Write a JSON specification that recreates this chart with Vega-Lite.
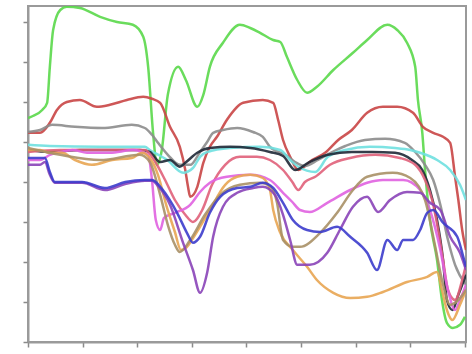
{
"$schema":"https://vega.github.io/schema/vega-lite/v6.json",
"width":438,"height":336,
"autosize":{"type":"none"},
"padding":{"left":28,"top":6,"right":6,"bottom":12},
"background":"white",
"config":{"view":{"stroke":"#9a9a9a","strokeWidth":2}},
"data":{"values":[
{"s":"green","x":0,"y":5.6},{"s":"green","x":0.09,"y":5.65},{"s":"green","x":0.26,"y":5.8},{"s":"green","x":0.35,"y":5.98},{"s":"green","x":0.4,"y":6.88},{"s":"green","x":0.46,"y":7.8},{"s":"green","x":0.59,"y":8.3},{"s":"green","x":0.71,"y":8.38},{"s":"green","x":0.95,"y":8.35},{"s":"green","x":1.32,"y":8.13},{"s":"green","x":1.63,"y":8.0},{"s":"green","x":1.92,"y":7.93},{"s":"green","x":2.11,"y":7.63},{"s":"green","x":2.2,"y":6.88},{"s":"green","x":2.29,"y":5.23},{"s":"green","x":2.36,"y":4.43},{"s":"green","x":2.45,"y":4.8},{"s":"green","x":2.56,"y":6.18},{"s":"green","x":2.75,"y":6.88},{"s":"green","x":2.89,"y":6.55},{"s":"green","x":3.1,"y":5.88},{"s":"green","x":3.21,"y":6.18},{"s":"green","x":3.33,"y":6.88},{"s":"green","x":3.57,"y":7.48},{"s":"green","x":3.88,"y":7.93},{"s":"green","x":4.07,"y":7.85},{"s":"green","x":4.25,"y":7.73},{"s":"green","x":4.49,"y":7.55},{"s":"green","x":4.62,"y":7.5},{"s":"green","x":4.74,"y":7.13},{"s":"green","x":4.93,"y":6.55},{"s":"green","x":5.11,"y":6.23},{"s":"green","x":5.29,"y":6.38},{"s":"green","x":5.59,"y":6.8},{"s":"green","x":5.95,"y":7.23},{"s":"green","x":6.21,"y":7.55},{"s":"green","x":6.58,"y":7.93},{"s":"green","x":6.76,"y":7.8},{"s":"green","x":6.94,"y":7.48},{"s":"green","x":7.09,"y":6.88},{"s":"green","x":7.14,"y":6.05},{"s":"green","x":7.22,"y":5.23},{"s":"green","x":7.27,"y":4.3},{"s":"green","x":7.36,"y":3.05},{"s":"green","x":7.49,"y":2.05},{"s":"green","x":7.58,"y":1.05},{"s":"green","x":7.67,"y":0.48},{"s":"green","x":7.78,"y":0.35},{"s":"green","x":7.91,"y":0.43},{"s":"green","x":8.0,"y":0.63},
{"s":"red","x":0,"y":5.23},{"s":"red","x":0.22,"y":5.23},{"s":"red","x":0.4,"y":5.48},{"s":"red","x":0.53,"y":5.8},{"s":"red","x":0.71,"y":6.0},{"s":"red","x":0.95,"y":6.05},{"s":"red","x":1.26,"y":5.88},{"s":"red","x":1.5,"y":5.93},{"s":"red","x":1.81,"y":6.05},{"s":"red","x":2.11,"y":6.13},{"s":"red","x":2.27,"y":6.08},{"s":"red","x":2.42,"y":5.98},{"s":"red","x":2.6,"y":5.38},{"s":"red","x":2.78,"y":4.88},{"s":"red","x":2.88,"y":4.3},{"s":"red","x":2.93,"y":3.88},{"s":"red","x":2.97,"y":3.63},{"s":"red","x":3.1,"y":3.88},{"s":"red","x":3.21,"y":4.48},{"s":"red","x":3.33,"y":4.88},{"s":"red","x":3.46,"y":5.13},{"s":"red","x":3.64,"y":5.55},{"s":"red","x":3.94,"y":5.98},{"s":"red","x":4.3,"y":6.05},{"s":"red","x":4.49,"y":5.98},{"s":"red","x":4.58,"y":5.55},{"s":"red","x":4.67,"y":5.05},{"s":"red","x":4.8,"y":4.63},{"s":"red","x":4.95,"y":4.3},{"s":"red","x":5.2,"y":4.55},{"s":"red","x":5.44,"y":4.73},{"s":"red","x":5.68,"y":5.05},{"s":"red","x":5.93,"y":5.3},{"s":"red","x":6.21,"y":5.73},{"s":"red","x":6.5,"y":5.88},{"s":"red","x":6.76,"y":5.88},{"s":"red","x":7.05,"y":5.73},{"s":"red","x":7.23,"y":5.38},{"s":"red","x":7.42,"y":5.23},{"s":"red","x":7.6,"y":5.13},{"s":"red","x":7.73,"y":4.98},{"s":"red","x":7.82,"y":4.13},{"s":"red","x":7.88,"y":3.55},{"s":"red","x":7.95,"y":2.8},{"s":"red","x":8.02,"y":2.3},
{"s":"gray","x":0,"y":5.25},{"s":"gray","x":0.22,"y":5.3},{"s":"gray","x":0.44,"y":5.43},{"s":"gray","x":0.86,"y":5.38},{"s":"gray","x":1.36,"y":5.35},{"s":"gray","x":1.9,"y":5.43},{"s":"gray","x":2.14,"y":5.35},{"s":"gray","x":2.27,"y":5.18},{"s":"gray","x":2.38,"y":4.98},{"s":"gray","x":2.56,"y":4.68},{"s":"gray","x":2.78,"y":4.43},{"s":"gray","x":2.97,"y":4.43},{"s":"gray","x":3.15,"y":4.75},{"s":"gray","x":3.28,"y":5.0},{"s":"gray","x":3.39,"y":5.23},{"s":"gray","x":3.57,"y":5.3},{"s":"gray","x":3.83,"y":5.35},{"s":"gray","x":4.12,"y":5.25},{"s":"gray","x":4.3,"y":5.13},{"s":"gray","x":4.43,"y":4.88},{"s":"gray","x":4.71,"y":4.68},{"s":"gray","x":4.89,"y":4.5},{"s":"gray","x":5.07,"y":4.4},{"s":"gray","x":5.31,"y":4.55},{"s":"gray","x":5.57,"y":4.75},{"s":"gray","x":5.81,"y":4.9},{"s":"gray","x":6.17,"y":5.05},{"s":"gray","x":6.54,"y":5.08},{"s":"gray","x":6.9,"y":4.98},{"s":"gray","x":7.09,"y":4.75},{"s":"gray","x":7.27,"y":4.43},{"s":"gray","x":7.42,"y":4.05},{"s":"gray","x":7.55,"y":3.43},{"s":"gray","x":7.69,"y":2.55},{"s":"gray","x":7.82,"y":1.93},{"s":"gray","x":8.02,"y":1.43},
{"s":"cyan","x":0,"y":4.93},{"s":"cyan","x":0.4,"y":4.9},{"s":"cyan","x":1.32,"y":4.88},{"s":"cyan","x":2.14,"y":4.88},{"s":"cyan","x":2.23,"y":4.8},{"s":"cyan","x":2.55,"y":4.55},{"s":"cyan","x":2.84,"y":4.23},{"s":"cyan","x":3.02,"y":4.35},{"s":"cyan","x":3.15,"y":4.63},{"s":"cyan","x":3.28,"y":4.75},{"s":"cyan","x":3.7,"y":4.85},{"s":"cyan","x":4.25,"y":4.88},{"s":"cyan","x":4.62,"y":4.8},{"s":"cyan","x":4.8,"y":4.55},{"s":"cyan","x":4.95,"y":4.38},{"s":"cyan","x":5.26,"y":4.25},{"s":"cyan","x":5.49,"y":4.63},{"s":"cyan","x":5.81,"y":4.8},{"s":"cyan","x":6.26,"y":4.88},{"s":"cyan","x":6.72,"y":4.85},{"s":"cyan","x":7.0,"y":4.8},{"s":"cyan","x":7.18,"y":4.73},{"s":"cyan","x":7.49,"y":4.55},{"s":"cyan","x":7.73,"y":4.3},{"s":"cyan","x":7.91,"y":3.93},{"s":"cyan","x":8.02,"y":3.55},
{"s":"black","x":0,"y":4.8},{"s":"black","x":0.4,"y":4.75},{"s":"black","x":0.95,"y":4.8},{"s":"black","x":1.5,"y":4.8},{"s":"black","x":2.05,"y":4.8},{"s":"black","x":2.23,"y":4.75},{"s":"black","x":2.42,"y":4.5},{"s":"black","x":2.6,"y":4.55},{"s":"black","x":2.78,"y":4.38},{"s":"black","x":2.88,"y":4.48},{"s":"black","x":3.1,"y":4.73},{"s":"black","x":3.33,"y":4.85},{"s":"black","x":3.7,"y":4.88},{"s":"black","x":4.07,"y":4.85},{"s":"black","x":4.43,"y":4.75},{"s":"black","x":4.67,"y":4.65},{"s":"black","x":4.89,"y":4.3},{"s":"black","x":5.13,"y":4.48},{"s":"black","x":5.49,"y":4.68},{"s":"black","x":5.93,"y":4.75},{"s":"black","x":6.3,"y":4.75},{"s":"black","x":6.72,"y":4.73},{"s":"black","x":7.03,"y":4.55},{"s":"black","x":7.22,"y":4.3},{"s":"black","x":7.36,"y":3.8},{"s":"black","x":7.49,"y":3.05},{"s":"black","x":7.6,"y":2.05},{"s":"black","x":7.67,"y":1.05},{"s":"black","x":7.77,"y":0.8},{"s":"black","x":7.88,"y":1.18},{"s":"black","x":7.95,"y":1.43},{"s":"black","x":8.02,"y":1.68},
{"s":"rose","x":0,"y":4.75},{"s":"rose","x":0.59,"y":4.8},{"s":"rose","x":1.32,"y":4.8},{"s":"rose","x":2.14,"y":4.8},{"s":"rose","x":2.33,"y":4.5},{"s":"rose","x":2.51,"y":4.05},{"s":"rose","x":2.69,"y":3.55},{"s":"rose","x":2.88,"y":3.18},{"s":"rose","x":3.02,"y":3.0},{"s":"rose","x":3.19,"y":3.3},{"s":"rose","x":3.37,"y":3.93},{"s":"rose","x":3.61,"y":4.43},{"s":"rose","x":3.88,"y":4.63},{"s":"rose","x":4.19,"y":4.63},{"s":"rose","x":4.43,"y":4.55},{"s":"rose","x":4.67,"y":4.3},{"s":"rose","x":4.84,"y":4.0},{"s":"rose","x":4.95,"y":3.8},{"s":"rose","x":5.07,"y":4.0},{"s":"rose","x":5.26,"y":4.13},{"s":"rose","x":5.53,"y":4.43},{"s":"rose","x":5.9,"y":4.6},{"s":"rose","x":6.36,"y":4.68},{"s":"rose","x":6.81,"y":4.6},{"s":"rose","x":7.09,"y":4.43},{"s":"rose","x":7.27,"y":4.05},{"s":"rose","x":7.4,"y":3.55},{"s":"rose","x":7.51,"y":2.8},{"s":"rose","x":7.6,"y":2.05},{"s":"rose","x":7.69,"y":1.3},{"s":"rose","x":7.82,"y":1.05},{"s":"rose","x":7.95,"y":1.55},{"s":"rose","x":8.02,"y":1.93},
{"s":"magenta","x":0,"y":4.55},{"s":"magenta","x":0.22,"y":4.55},{"s":"magenta","x":0.4,"y":4.68},{"s":"magenta","x":0.59,"y":4.75},{"s":"magenta","x":0.82,"y":4.8},{"s":"magenta","x":1.08,"y":4.73},{"s":"magenta","x":1.5,"y":4.73},{"s":"magenta","x":1.92,"y":4.8},{"s":"magenta","x":2.2,"y":4.68},{"s":"magenta","x":2.27,"y":4.05},{"s":"magenta","x":2.34,"y":3.05},{"s":"magenta","x":2.42,"y":2.8},{"s":"magenta","x":2.49,"y":3.1},{"s":"magenta","x":2.69,"y":3.23},{"s":"magenta","x":2.97,"y":3.43},{"s":"magenta","x":3.15,"y":3.75},{"s":"magenta","x":3.33,"y":3.98},{"s":"magenta","x":3.64,"y":4.13},{"s":"magenta","x":4.07,"y":4.18},{"s":"magenta","x":4.43,"y":4.05},{"s":"magenta","x":4.67,"y":3.73},{"s":"magenta","x":4.84,"y":3.5},{"s":"magenta","x":4.98,"y":3.3},{"s":"magenta","x":5.16,"y":3.25},{"s":"magenta","x":5.48,"y":3.48},{"s":"magenta","x":5.9,"y":3.8},{"s":"magenta","x":6.21,"y":3.98},{"s":"magenta","x":6.5,"y":4.05},{"s":"magenta","x":6.87,"y":4.05},{"s":"magenta","x":7.18,"y":3.8},{"s":"magenta","x":7.36,"y":3.3},{"s":"magenta","x":7.55,"y":2.3},{"s":"magenta","x":7.69,"y":1.3},{"s":"magenta","x":7.82,"y":0.8},{"s":"magenta","x":7.91,"y":1.05},{"s":"magenta","x":8.02,"y":1.43},
{"s":"orange","x":0,"y":4.8},{"s":"orange","x":0.22,"y":4.8},{"s":"orange","x":0.4,"y":4.73},{"s":"orange","x":0.62,"y":4.73},{"s":"orange","x":0.86,"y":4.55},{"s":"orange","x":1.17,"y":4.43},{"s":"orange","x":1.54,"y":4.55},{"s":"orange","x":1.9,"y":4.6},{"s":"orange","x":2.09,"y":4.73},{"s":"orange","x":2.23,"y":4.6},{"s":"orange","x":2.38,"y":4.18},{"s":"orange","x":2.53,"y":3.43},{"s":"orange","x":2.69,"y":2.75},{"s":"orange","x":2.8,"y":2.3},{"s":"orange","x":2.89,"y":2.35},{"s":"orange","x":3.06,"y":2.68},{"s":"orange","x":3.33,"y":3.3},{"s":"orange","x":3.61,"y":3.93},{"s":"orange","x":3.83,"y":4.13},{"s":"orange","x":4.07,"y":4.18},{"s":"orange","x":4.3,"y":4.1},{"s":"orange","x":4.43,"y":3.8},{"s":"orange","x":4.49,"y":3.3},{"s":"orange","x":4.62,"y":2.73},{"s":"orange","x":4.85,"y":2.3},{"s":"orange","x":5.11,"y":1.88},{"s":"orange","x":5.29,"y":1.55},{"s":"orange","x":5.59,"y":1.23},{"s":"orange","x":5.9,"y":1.1},{"s":"orange","x":6.21,"y":1.13},{"s":"orange","x":6.5,"y":1.25},{"s":"orange","x":6.94,"y":1.5},{"s":"orange","x":7.31,"y":1.63},{"s":"orange","x":7.49,"y":1.75},{"s":"orange","x":7.58,"y":1.3},{"s":"orange","x":7.67,"y":0.8},{"s":"orange","x":7.77,"y":0.55},{"s":"orange","x":7.91,"y":0.93},{"s":"orange","x":8.02,"y":1.3},
{"s":"olive","x":0,"y":4.85},{"s":"olive","x":0.59,"y":4.68},{"s":"olive","x":1.32,"y":4.55},{"s":"olive","x":2.05,"y":4.68},{"s":"olive","x":2.23,"y":4.5},{"s":"olive","x":2.42,"y":3.68},{"s":"olive","x":2.56,"y":2.93},{"s":"olive","x":2.69,"y":2.43},{"s":"olive","x":2.78,"y":2.25},{"s":"olive","x":2.97,"y":2.55},{"s":"olive","x":3.24,"y":3.18},{"s":"olive","x":3.52,"y":3.68},{"s":"olive","x":3.88,"y":3.93},{"s":"olive","x":4.25,"y":3.98},{"s":"olive","x":4.43,"y":3.9},{"s":"olive","x":4.56,"y":3.48},{"s":"olive","x":4.67,"y":2.55},{"s":"olive","x":4.85,"y":2.38},{"s":"olive","x":4.98,"y":2.38},{"s":"olive","x":5.35,"y":2.73},{"s":"olive","x":5.66,"y":3.23},{"s":"olive","x":5.95,"y":3.8},{"s":"olive","x":6.21,"y":4.13},{"s":"olive","x":6.68,"y":4.23},{"s":"olive","x":7.0,"y":4.1},{"s":"olive","x":7.27,"y":3.55},{"s":"olive","x":7.45,"y":2.43},{"s":"olive","x":7.6,"y":1.43},{"s":"olive","x":7.73,"y":0.93},{"s":"olive","x":7.88,"y":1.05},{"s":"olive","x":8.02,"y":1.3},
{"s":"purple","x":0,"y":4.43},{"s":"purple","x":0.22,"y":4.43},{"s":"purple","x":0.31,"y":4.5},{"s":"purple","x":0.4,"y":4.18},{"s":"purple","x":0.49,"y":3.98},{"s":"purple","x":0.99,"y":3.98},{"s":"purple","x":1.41,"y":3.8},{"s":"purple","x":1.78,"y":3.95},{"s":"purple","x":2.14,"y":4.03},{"s":"purple","x":2.27,"y":4.03},{"s":"purple","x":2.38,"y":3.9},{"s":"purple","x":2.6,"y":3.43},{"s":"purple","x":2.84,"y":2.48},{"s":"purple","x":3.02,"y":1.8},{"s":"purple","x":3.15,"y":1.23},{"s":"purple","x":3.28,"y":1.73},{"s":"purple","x":3.39,"y":2.63},{"s":"purple","x":3.57,"y":3.38},{"s":"purple","x":3.83,"y":3.73},{"s":"purple","x":4.12,"y":3.85},{"s":"purple","x":4.3,"y":3.88},{"s":"purple","x":4.52,"y":3.68},{"s":"purple","x":4.67,"y":3.18},{"s":"purple","x":4.8,"y":2.55},{"s":"purple","x":4.93,"y":1.93},{"s":"purple","x":5.16,"y":1.93},{"s":"purple","x":5.48,"y":2.23},{"s":"purple","x":5.71,"y":2.8},{"s":"purple","x":5.95,"y":3.38},{"s":"purple","x":6.21,"y":3.63},{"s":"purple","x":6.41,"y":3.25},{"s":"purple","x":6.63,"y":3.55},{"s":"purple","x":6.94,"y":3.75},{"s":"purple","x":7.18,"y":3.73},{"s":"purple","x":7.36,"y":3.48},{"s":"purple","x":7.55,"y":3.3},{"s":"purple","x":7.73,"y":2.63},{"s":"purple","x":7.91,"y":2.23},{"s":"purple","x":8.02,"y":1.8},
{"s":"blue","x":0,"y":4.6},{"s":"blue","x":0.31,"y":4.6},{"s":"blue","x":0.4,"y":4.25},{"s":"blue","x":0.49,"y":4.0},{"s":"blue","x":0.99,"y":4.0},{"s":"blue","x":1.41,"y":3.85},{"s":"blue","x":1.78,"y":4.0},{"s":"blue","x":2.14,"y":4.05},{"s":"blue","x":2.27,"y":4.05},{"s":"blue","x":2.47,"y":3.8},{"s":"blue","x":2.73,"y":3.23},{"s":"blue","x":2.91,"y":2.73},{"s":"blue","x":3.02,"y":2.48},{"s":"blue","x":3.15,"y":2.63},{"s":"blue","x":3.33,"y":3.23},{"s":"blue","x":3.52,"y":3.63},{"s":"blue","x":3.83,"y":3.85},{"s":"blue","x":4.07,"y":3.88},{"s":"blue","x":4.3,"y":3.98},{"s":"blue","x":4.49,"y":3.85},{"s":"blue","x":4.67,"y":3.48},{"s":"blue","x":4.85,"y":3.05},{"s":"blue","x":5.11,"y":2.8},{"s":"blue","x":5.35,"y":2.75},{"s":"blue","x":5.66,"y":2.88},{"s":"blue","x":5.9,"y":2.63},{"s":"blue","x":6.21,"y":2.23},{"s":"blue","x":6.39,"y":1.8},{"s":"blue","x":6.58,"y":2.55},{"s":"blue","x":6.76,"y":2.3},{"s":"blue","x":6.87,"y":2.55},{"s":"blue","x":7.05,"y":2.55},{"s":"blue","x":7.18,"y":2.8},{"s":"blue","x":7.31,"y":3.23},{"s":"blue","x":7.42,"y":3.3},{"s":"blue","x":7.6,"y":2.98},{"s":"blue","x":7.86,"y":2.63},{"s":"blue","x":7.97,"y":2.13},{"s":"blue","x":8.02,"y":1.88}
]},
"mark":{"type":"line","strokeWidth":2.5,"interpolate":"monotone","clip":true,"opacity":0.9},
"encoding":{
"x":{"field":"x","type":"quantitative","scale":{"domain":[0,8.02],"nice":false,"zero":false},
"axis":{"values":[0,1,2,3,4,5,6,7,8],"labels":false,"title":null,"grid":false,"tickSize":5,"tickColor":"#8a8a8a","tickWidth":1.5,"domainColor":"#9a9a9a","domainWidth":2}},
"y":{"field":"y","type":"quantitative","scale":{"domain":[0,8.4],"nice":false,"zero":false},
"axis":{"values":[0,1,2,3,4,5,6,7,8],"labels":false,"title":null,"grid":false,"tickSize":5,"tickColor":"#8a8a8a","tickWidth":1.5,"domainColor":"#9a9a9a","domainWidth":2}},
"color":{"field":"s","type":"nominal","legend":null,
"scale":{"domain":["green","red","gray","cyan","black","rose","magenta","orange","olive","purple","blue"],
"range":["#5ad84a","#c94545","#8c8c8c","#6fe0e0","#1e2836","#e0607a","#e062e0","#e8a552","#a89066","#8a44b8","#3c3ccc"]}}
}
}
